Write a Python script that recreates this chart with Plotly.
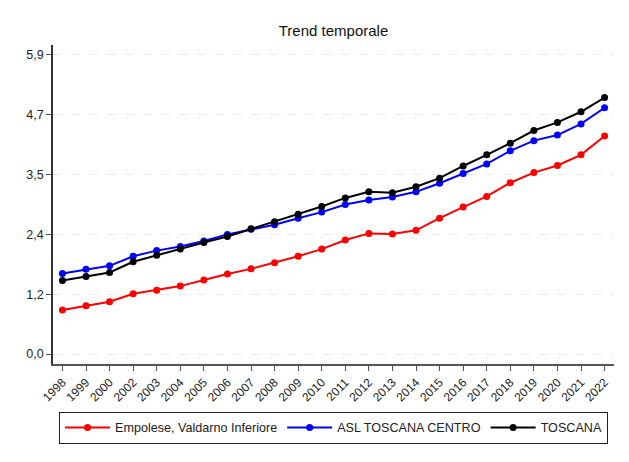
import plotly.graph_objects as go

# Years (2001 missing in the source series)
anni = ["1998", "1999", "2000", "2002", "2003", "2004", "2005", "2006", "2007",
        "2008", "2009", "2010", "2011", "2012", "2013", "2014", "2015", "2016",
        "2017", "2018", "2019", "2020", "2021", "2022"]

empolese = [0.87, 0.95, 1.03, 1.19, 1.26, 1.34, 1.46, 1.58, 1.68, 1.80, 1.93, 2.07,
            2.25, 2.38, 2.37, 2.44, 2.68, 2.90, 3.11, 3.38, 3.58, 3.72, 3.93, 4.30]
asl_centro = [1.59, 1.67, 1.74, 1.93, 2.04, 2.12, 2.23, 2.36, 2.46, 2.55, 2.68, 2.80,
              2.95, 3.04, 3.10, 3.20, 3.37, 3.56, 3.75, 4.01, 4.21, 4.32, 4.54, 4.86]
toscana = [1.45, 1.53, 1.61, 1.82, 1.95, 2.07, 2.20, 2.32, 2.47, 2.61, 2.76, 2.91,
           3.08, 3.20, 3.18, 3.30, 3.47, 3.71, 3.93, 4.16, 4.41, 4.57, 4.78, 5.06]

tick_vals = [0, 1.18, 2.36, 3.54, 4.72, 5.9]
tick_text = ["0,0", "1,2", "2,4", "3,5", "4,7", "5,9"]

serie = [
    ("Empolese, Valdarno Inferiore", empolese, "#ff0000"),
    ("ASL TOSCANA CENTRO", asl_centro, "#0000ff"),
    ("TOSCANA", toscana, "#000000"),
]

fig = go.Figure()
for nome, valori, colore in serie:
    fig.add_trace(go.Scatter(
        x=anni, y=valori, name=nome, mode="lines+markers",
        line=dict(color=colore, width=2),
        marker=dict(color=colore, size=7),
        cliponaxis=False,
    ))

# page body adds an 8px offset, so the figure is sized to fit the window
fig.update_layout(
    width=621, height=454,
    margin=dict(l=45, r=15, t=37, b=98),
    paper_bgcolor="white", plot_bgcolor="white",
    font=dict(family="Arial, Liberation Sans, sans-serif", size=12, color="#222"),
    title=dict(text="Trend temporale", x=0.5, xref="paper", y=0.95,
               yanchor="middle", font=dict(size=15, color="#111")),
    showlegend=True,
    legend=dict(orientation="h", x=0.5, xanchor="center", y=-0.15, yanchor="top",
                bordercolor="#222", borderwidth=1, font=dict(size=12.6, color="#222"),
                itemwidth=45, tracegroupgap=0),
)

fig.update_xaxes(
    type="category", range=[-0.4, 23.4],
    showline=True, linecolor="#555", linewidth=1.5,
    ticks="outside", ticklen=5, tickcolor="#555", tickangle=-45,
    tickfont=dict(size=12, color="#222"),
    showgrid=False, zeroline=False,
)
fig.update_yaxes(
    range=[-0.197, 6.097], tickvals=tick_vals, ticktext=tick_text,
    showline=True, linecolor="#333", linewidth=1.5,
    ticks="outside", ticklen=5, tickcolor="#555",
    tickfont=dict(size=12.5, color="#222"),
    showgrid=True, gridcolor="#ececec", griddash="dash", gridwidth=1,
    zeroline=False,
)

fig.write_html("out.html")
